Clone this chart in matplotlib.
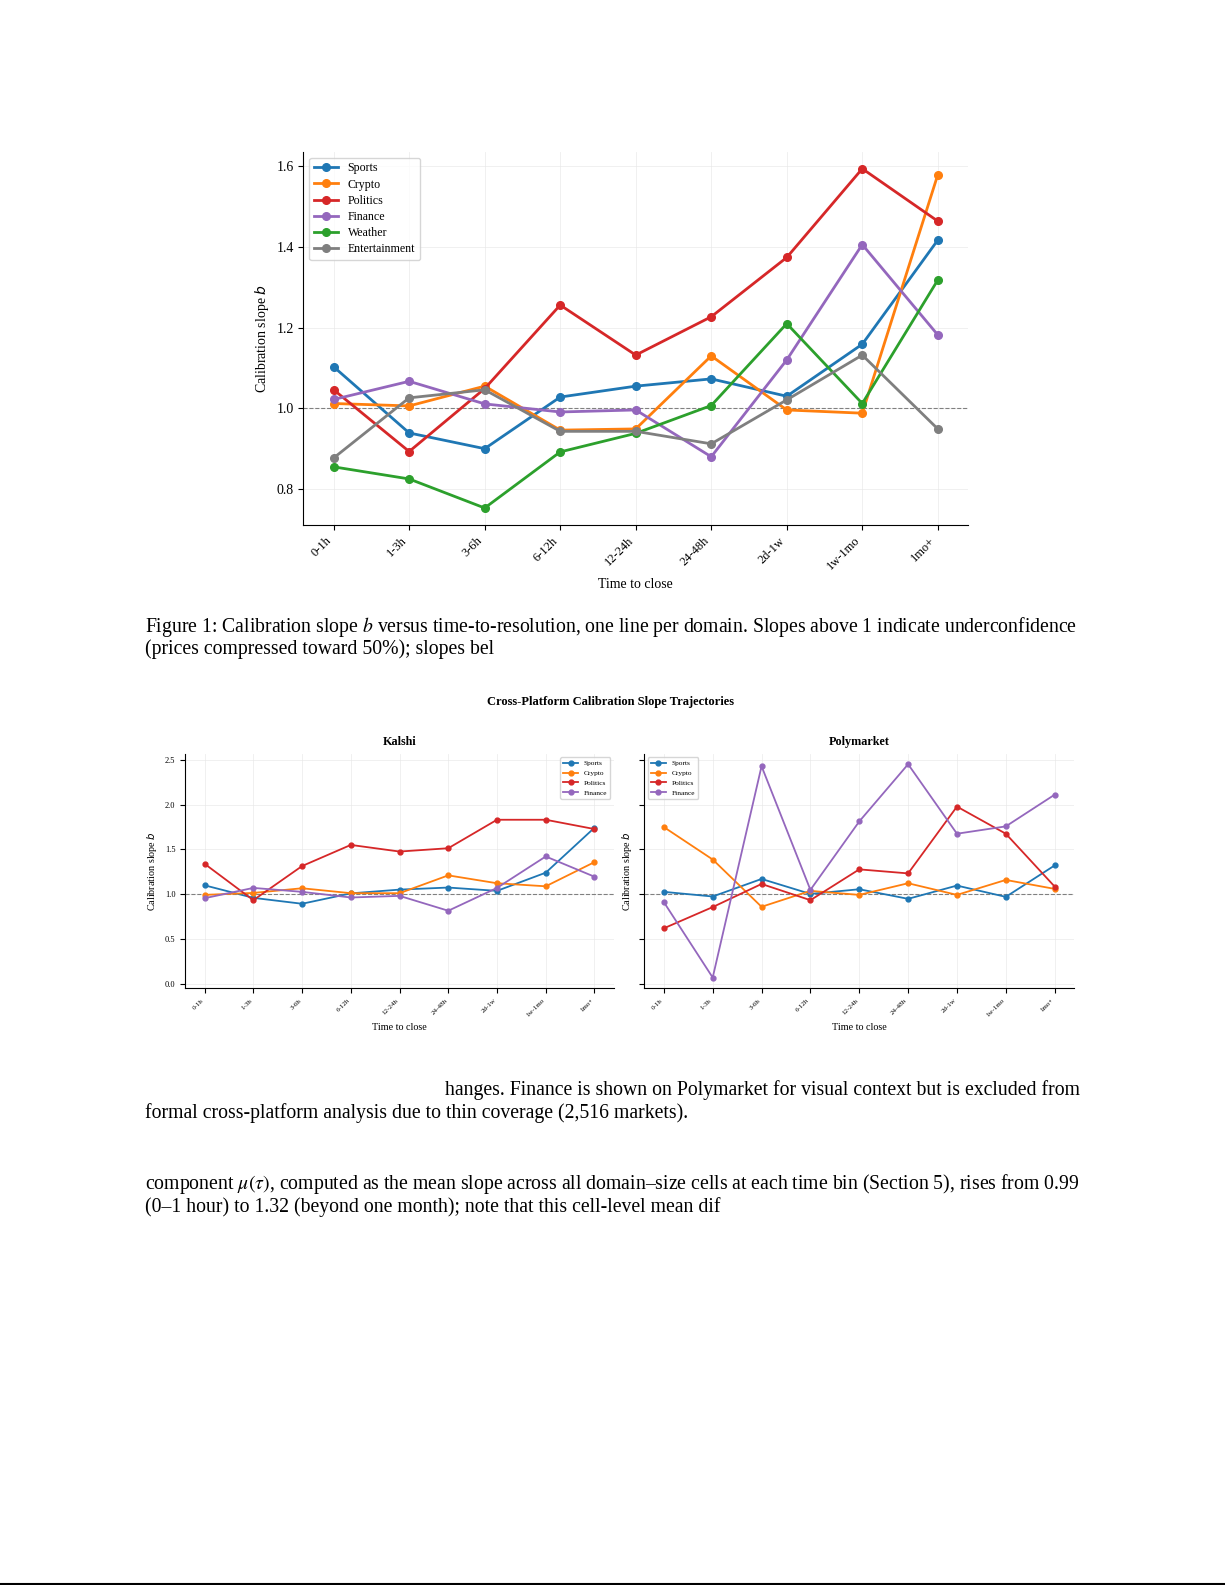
import matplotlib
matplotlib.use("Agg")
import matplotlib.pyplot as plt
import numpy as np

plt.rcParams['font.family'] = ['Liberation Serif', 'DejaVu Serif']

W, H = 1225, 1585
S = 1585 / 1567

time_bins = ["0-1h", "1-3h", "3-6h", "6-12h", "12-24h", "24-48h", "2d-1w", "1w-1mo", "1mo+"]

# figure 1: all domains pooled
domains = ["Sports", "Crypto", "Politics", "Finance", "Weather", "Entertainment"]
colors = ["tab:blue", "tab:orange", "tab:red", "tab:purple", "tab:green", "tab:gray"]
sports = [1.103, 0.939, 0.900, 1.028, 1.055, 1.073, 1.030, 1.159, 1.417]
crypto = [1.012, 1.006, 1.055, 0.946, 0.949, 1.130, 0.996, 0.988, 1.579]
politics = [1.046, 0.893, 1.049, 1.256, 1.132, 1.227, 1.374, 1.594, 1.464]
finance = [1.022, 1.067, 1.011, 0.991, 0.996, 0.880, 1.120, 1.406, 1.182]
weather = [0.855, 0.825, 0.753, 0.892, 0.938, 1.007, 1.210, 1.012, 1.318]
entertainment = [0.877, 1.026, 1.046, 0.943, 0.943, 0.912, 1.021, 1.132, 0.949]

# figure 2: per platform
kalshi_sports = [1.100, 0.960, 0.894, 1.010, 1.052, 1.075, 1.038, 1.241, 1.743]
kalshi_crypto = [0.993, 1.015, 1.067, 1.012, 1.012, 1.211, 1.123, 1.089, 1.359]
kalshi_politics = [1.340, 0.934, 1.315, 1.551, 1.477, 1.514, 1.832, 1.832, 1.728]
kalshi_finance = [0.956, 1.071, 1.027, 0.964, 0.982, 0.816, 1.071, 1.422, 1.196]

poly_sports = [1.027, 0.975, 1.171, 1.004, 1.056, 0.949, 1.097, 0.971, 1.322]
poly_crypto = [1.750, 1.388, 0.860, 1.038, 0.993, 1.123, 0.993, 1.160, 1.060]
poly_politics = [0.620, 0.857, 1.115, 0.934, 1.278, 1.233, 1.979, 1.676, 1.086]
poly_finance = [0.912, 0.070, 2.430, 1.049, 1.813, 2.452, 1.676, 1.758, 2.112]

platform_domains = ["Sports", "Crypto", "Politics", "Finance"]
platform_colors = ["tab:blue", "tab:orange", "tab:red", "tab:purple"]


def box(x0, y0, x1, y1):
    # pixel box -> figure fraction rect
    x0, y0, x1, y1 = x0 * S, y0 * S, x1 * S, y1 * S
    return [x0 / W, 1 - y1 / H, (x1 - x0) / W, (y1 - y0) / H]


def px(xp, yp):
    return xp * S / W, 1 - yp * S / H


def style_ax(ax, fs_tick):
    ax.spines['top'].set_visible(False)
    ax.spines['right'].set_visible(False)
    ax.grid(True, color='#e6e6e6', linewidth=0.6, alpha=0.7)
    ax.set_axisbelow(True)
    ax.axhline(1.0, color='gray', linestyle='--', linewidth=0.8, zorder=1)
    ax.tick_params(labelsize=fs_tick)


fig = plt.figure(figsize=(W / 100, H / 100), dpi=100)

# ---- figure 1 ----
ax = fig.add_axes(box(300, 150, 957, 519))
x = np.arange(len(time_bins))
for name, vals, c in zip(domains, [sports, crypto, politics, finance, weather, entertainment], colors):
    ax.plot(x, vals, marker='o', color=c, linewidth=2.0, markersize=5.5, label=name)
style_ax(ax, 10)
ax.set_xticks(x)
ax.set_xticklabels(time_bins, rotation=45, ha='right', fontsize=9)
ax.set_xlabel("Time to close", fontsize=10)
ax.set_ylabel("Calibration slope $b$", fontsize=10)
ax.set_yticks([0.8, 1.0, 1.2, 1.4, 1.6])
ax.legend(loc='upper left', fontsize=8.6, framealpha=0.8, handlelength=2.0,
          labelspacing=0.35)

# ---- figure 2 ----
fig.text(*px(604, 694), "Cross-Platform Calibration Slope Trajectories",
         ha='center', va='center', fontsize=9, fontweight='bold')

ax_k = fig.add_axes(box(183, 745, 607, 977))
ax_p = fig.add_axes(box(637, 745, 1062, 977), sharey=ax_k)

panels = [
    (ax_k, "Kalshi", [kalshi_sports, kalshi_crypto, kalshi_politics, kalshi_finance], 'upper right'),
    (ax_p, "Polymarket", [poly_sports, poly_crypto, poly_politics, poly_finance], 'upper left'),
]
for a, title, series, loc in panels:
    for name, vals, c in zip(platform_domains, series, platform_colors):
        a.plot(x, vals, marker='o', color=c, linewidth=1.3, markersize=3.5, label=name)
    style_ax(a, 6)
    a.set_xticks(x)
    a.set_xticklabels(time_bins, rotation=45, ha='right', fontsize=5)
    a.set_xlabel("Time to close", fontsize=7.3)
    a.set_ylabel("Calibration slope $b$", fontsize=7.3)
    a.set_title(title, fontsize=8.7, fontweight='bold')
    a.legend(loc=loc, fontsize=5.3, framealpha=0.8)
ax_k.set_yticks([0.0, 0.5, 1.0, 1.5, 2.0, 2.5])
plt.setp(ax_p.get_yticklabels(), visible=False)

# ---- body text ----
fs_body = 14.2
fig.text(*px(143, 620),
         "Figure 1: Calibration slope $b$ versus time-to-resolution, one line per domain. "
         "Slopes above 1 indicate underconfidence",
         ha='left', va='center', fontsize=fs_body, math_fontfamily='stix')
fig.text(*px(143, 642), "(prices compressed toward 50%); slopes bel",
         ha='left', va='center', fontsize=fs_body)
fig.text(*px(1068, 1078),
         "hanges. Finance is shown on Polymarket for visual context but is excluded from",
         ha='right', va='center', fontsize=fs_body)
fig.text(*px(143, 1100),
         "formal cross-platform analysis due to thin coverage (2,516 markets).",
         ha='left', va='center', fontsize=fs_body)
fig.text(*px(143, 1171),
         r"component $\mu(\tau)$, computed as the mean slope across all domain–size cells "
         "at each time bin (Section 5), rises from 0.99",
         ha='left', va='center', fontsize=fs_body, math_fontfamily='stix')
fig.text(*px(143, 1193),
         "(0–1 hour) to 1.32 (beyond one month); note that this cell-level mean dif",
         ha='left', va='center', fontsize=fs_body)

# rule at the page bottom
fig.add_artist(plt.Line2D([0, 1], [1.5 / H, 1.5 / H], color='black', linewidth=1.5,
                          transform=fig.transFigure))

fig.savefig("out.png", dpi=100)
